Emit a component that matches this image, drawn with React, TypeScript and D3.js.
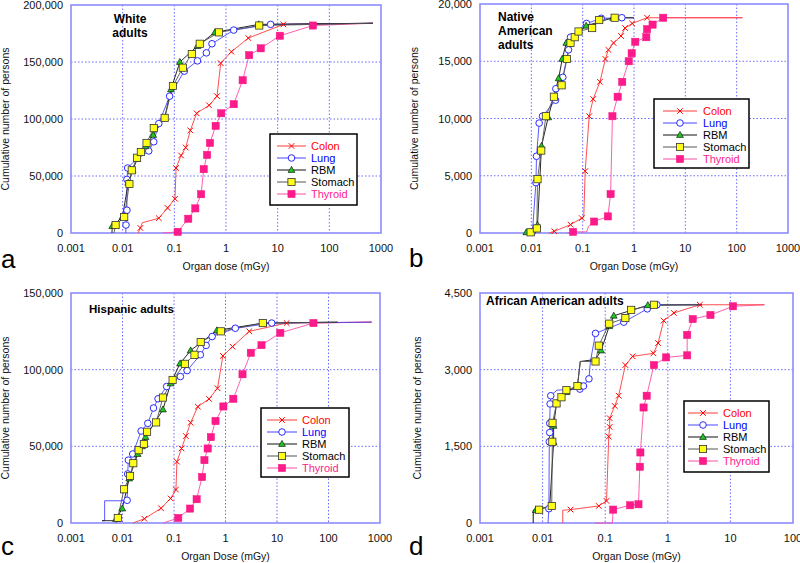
import React from 'react';
import * as d3 from 'd3';

// [dose mGy, cumulative persons] -> point with a marker; a third value 0 = plain vertex
type Pt = number[];

const organs = ['Colon', 'Lung', 'RBM', 'Stomach', 'Thyroid'];

// ---- a: White adults
const colonA: Pt[] = [[0.02, 0, 0], [0.022, 4400], [0.024, 9000, 0], [0.05, 13000], [0.074, 22000], [0.103, 30000], [0.108, 57000], [0.135, 68000], [0.166, 75000], [0.204, 90000], [0.27, 105000], [0.47, 112000], [0.67, 120000], [0.79, 149000], [1.27, 159000], [2.7, 171000], [12.9, 183000], [700, 184000, 0]];
const lungA: Pt[] = [[0.0115, 0, 0], [0.0116, 7000], [0.0121, 20000], [0.0121, 47000], [0.0125, 57000], [0.016, 62000, 0], [0.032, 72000], [0.04, 80000], [0.05, 96000], [0.081, 120000], [0.156, 142000], [0.28, 151000], [0.417, 158000], [0.535, 166000], [1.41, 178000], [7.3, 183000], [700, 184000, 0]];
const rbmA: Pt[] = [[0.0062, 0, 0], [0.0063, 6000], [0.0099, 14000], [0.0128, 44000], [0.0156, 55000], [0.0192, 65000], [0.0275, 76000], [0.039, 86000], [0.065, 101000], [0.086, 126000], [0.128, 150000], [0.28, 164000], [0.61, 176000], [4.3, 183000], [700, 184000, 0]];
const stomachA: Pt[] = [[0.0068, 0, 0], [0.0073, 7000], [0.0107, 14000], [0.0135, 43000], [0.015, 55000], [0.019, 66000], [0.0225, 71000], [0.029, 79000], [0.04, 92000], [0.065, 101000], [0.094, 129000], [0.146, 145000], [0.218, 157000], [0.31, 166000], [0.73, 176000], [4.4, 182000], [700, 184000, 0]];
const thyroidA: Pt[] = [[0.059, 0, 0], [0.116, 1000], [0.186, 12500], [0.255, 21600], [0.33, 34000], [0.37, 56000], [0.43, 68500], [0.49, 79000], [0.63, 94000], [0.81, 105000], [1.41, 113000], [2.1, 134000], [2.8, 156000], [4.7, 162000], [11, 173000], [48, 182000], [700, 184000, 0]];

// ---- b: Native American adults
const colonB: Pt[] = [[0.022, 0, 0], [0.028, 150], [0.058, 730], [0.096, 1300], [0.105, 1400, 0], [0.112, 5400], [0.134, 10200], [0.16, 11700], [0.217, 13200], [0.277, 15200], [0.317, 16000], [0.4, 16600], [0.56, 17200], [0.67, 17900], [0.92, 18300], [1.8, 18800], [130, 18800, 0]];
const lungB: Pt[] = [[0.0095, 0, 0], [0.0105, 100], [0.0123, 4400], [0.0126, 6700], [0.0142, 9600], [0.0165, 10200], [0.0296, 11600], [0.03, 12600], [0.041, 13600], [0.053, 16000], [0.058, 17100], [0.119, 18300], [0.23, 18750], [0.58, 18800], [1.0, 18800, 0]];
const rbmB: Pt[] = [[0.0079, 0, 0], [0.008, 60], [0.0132, 700], [0.0158, 7600], [0.0213, 10100], [0.034, 13500], [0.04, 15200], [0.048, 16600], [0.117, 18100], [0.39, 18800], [1.0, 18800, 0]];
const stomachB: Pt[] = [[0.0095, 0, 0], [0.0097, 60], [0.0128, 400], [0.0132, 4700], [0.0156, 7200], [0.0192, 10200], [0.0275, 11900], [0.0389, 12900], [0.0493, 15200], [0.058, 16600], [0.07, 17100], [0.083, 17600], [0.153, 17900], [0.21, 18600], [0.42, 18800], [1.0, 18800, 0]];
const thyroidB: Pt[] = [[0.05, 0, 0], [0.065, 100], [0.12, 100, 0], [0.13, 600, 0], [0.167, 1000], [0.31, 1450], [0.35, 3400], [0.38, 10200], [0.48, 11900], [0.59, 13200], [0.79, 15000], [0.9, 15700], [1.06, 16700], [1.74, 17100], [1.8, 17800], [2.3, 18200], [3.7, 18800], [130, 18800, 0]];

// ---- c: Hispanic adults
const colonC: Pt[] = [[0.016, 0, 0], [0.0266, 2800], [0.056, 9600], [0.086, 16000], [0.109, 21800], [0.114, 40000], [0.14, 48600], [0.17, 56700], [0.21, 65400], [0.29, 75900], [0.48, 80900], [0.7, 87900], [0.89, 109000], [1.37, 115000], [2.9, 125000], [15.4, 130400], [690, 131000, 0]];
const lungC: Pt[] = [[0.004, 1500, 0], [0.0045, 1500, 0], [0.0045, 14500, 0], [0.012, 14500, 0], [0.0123, 14800], [0.0126, 32000], [0.013, 41000], [0.0158, 45000], [0.023, 60000], [0.031, 65000], [0.04, 75000], [0.049, 81000], [0.072, 89000], [0.133, 95500], [0.18, 99400], [0.325, 109700], [0.42, 115800], [0.55, 121600], [1.55, 127000], [7.9, 130400], [690, 131000, 0]];
const rbmC: Pt[] = [[0.004, 1500, 0], [0.0072, 1500, 0], [0.0075, 2600], [0.0099, 9400], [0.0135, 29000], [0.0197, 45000], [0.024, 50000], [0.028, 56000], [0.061, 74000], [0.086, 91000], [0.131, 104000], [0.21, 112500], [0.68, 125600], [5.4, 130400], [150, 131000, 0]];
const stomachC: Pt[] = [[0.0075, 0, 0], [0.0081, 3300], [0.0107, 22000], [0.014, 30700], [0.0162, 39000], [0.0206, 47500], [0.026, 51500], [0.03, 59500], [0.045, 65600], [0.061, 81800], [0.094, 93300], [0.163, 103800], [0.25, 109700], [0.33, 118000], [0.81, 125000], [5.3, 130400], [150, 131000, 0]];
const thyroidC: Pt[] = [[0.062, 0, 0], [0.121, 3300], [0.205, 9400], [0.275, 15500], [0.35, 30000], [0.39, 41000], [0.45, 48600], [0.52, 56000], [0.64, 66500], [0.91, 76000], [1.42, 81000], [2.14, 97000], [3.1, 111000], [5.0, 116000], [11.6, 124000], [51, 130400], [690, 131000, 0]];

// ---- d: African American adults
const colonD: Pt[] = [[0.021, 0, 0], [0.021, 250, 0], [0.028, 262], [0.079, 333], [0.105, 432], [0.114, 1690], [0.118, 1880], [0.118, 2050], [0.142, 2290], [0.164, 2490], [0.21, 3090], [0.275, 3260], [0.59, 3320], [0.7, 3520], [0.86, 3960], [1.25, 4110], [3.25, 4270], [35, 4270, 0]];
const lungD: Pt[] = [[0.0122, 0, 0], [0.0126, 280], [0.0128, 1590], [0.013, 1770], [0.013, 1950], [0.0132, 2330], [0.0135, 2490], [0.017, 2600, 0], [0.0394, 2620], [0.045, 2680], [0.055, 2820], [0.058, 3160, 0], [0.07, 3710], [0.198, 3930], [0.47, 4190], [0.67, 4270], [3.5, 4270, 0]];
const rbmD: Pt[] = [[0.0071, 0, 0], [0.0071, 250, 0], [0.0078, 250], [0.013, 330, 0], [0.015, 1580], [0.015, 1900], [0.0167, 2340], [0.024, 2560], [0.036, 2680, 0], [0.04, 3160, 0], [0.07, 3200, 0], [0.086, 3375], [0.116, 3850], [0.137, 4055], [0.48, 4260], [3.5, 4270, 0]];
const stomachD: Pt[] = [[0.0071, 0, 0], [0.0071, 250, 0], [0.0088, 260], [0.014, 333], [0.0143, 1590], [0.0144, 1960], [0.0167, 2340], [0.02, 2460], [0.024, 2600], [0.036, 2680], [0.04, 3160, 0], [0.07, 3160], [0.079, 3470], [0.116, 3900], [0.21, 4010], [0.26, 4170], [0.6, 4270], [3.5, 4270, 0]];
const thyroidD: Pt[] = [[0.068, 0, 0], [0.13, 0, 0], [0.134, 262], [0.25, 347], [0.34, 366], [0.358, 1100], [0.365, 1380], [0.41, 2260], [0.46, 2490], [0.6, 3090], [0.94, 3240], [2.04, 3280], [2.04, 3680], [2.5, 3990], [4.8, 4070], [11.0, 4240], [35, 4270, 0]];

const doseTicks = [0.001, 0.01, 0.1, 1, 10, 100, 1000];
const yTicksA = [0, 50000, 100000, 150000, 200000];
const yTicksB = [0, 5000, 10000, 15000, 20000];
const yTicksC = [0, 50000, 100000, 150000];
const yTicksD = [0, 1500, 3000, 4500];

const FONT = 'Arial, "Liberation Sans", Helvetica, sans-serif';
const FRAME = '#8c8cff';
const GRID = '#5a5aff';

const styles: { [k: string]: { line: string; text: string } } = {
  Colon: { line: '#ff3b3b', text: '#ff0000' },
  Lung: { line: '#4646ff', text: '#0000ff' },
  RBM: { line: '#111111', text: '#000000' },
  Stomach: { line: '#555555', text: '#000000' },
  Thyroid: { line: '#ff4da6', text: '#ff1a8c' },
};

const Marker = ({ organ, x, y }: { organ: string; x: number; y: number }) => {
  if (organ === 'Colon') {
    const s = 2.8;
    return (
      <path d={`M${x - s},${y - s}L${x + s},${y + s}M${x - s},${y + s}L${x + s},${y - s}`} stroke="#ff0000" strokeWidth={1} />
    );
  }
  if (organ === 'Lung') {
    return <circle cx={x} cy={y} r={3.3} fill="#fff" stroke="#2a2aff" strokeWidth={1} />;
  }
  if (organ === 'RBM') {
    return (
      <path d={`M${x},${y - 3.6}L${x + 3.4},${y + 2.4}L${x - 3.4},${y + 2.4}Z`} fill="#1ec81e" stroke="#000" strokeWidth={0.6} />
    );
  }
  if (organ === 'Stomach') {
    return <rect x={x - 3.6} y={y - 3.6} width={7.2} height={7.2} fill="#ffff1a" stroke="#333" strokeWidth={0.8} />;
  }
  return <rect x={x - 3.6} y={y - 3.6} width={7.2} height={7.2} fill="#ff1a8c" stroke="#f0147f" strokeWidth={0.5} />;
};

interface PanelProps {
  letter: string;
  letterX: number;
  letterY: number;
  title: string[];
  titleX: number;
  titleY: number;
  titleAnchor: 'start' | 'middle';
  titleSize: number;
  left: number;
  right: number;
  top: number;
  bottom: number;
  maxDose: number;
  yMax: number;
  yTicks: number[];
  xLabel: string;
  legend: { x: number; y: number; w: number; h: number; l0: number; l1: number; tx: number };
  yTitleX: number;
  series: Pt[][];
}

const Panel = (p: PanelProps) => {
  const x = d3.scaleLog().domain([0.001, p.maxDose]).range([p.left, p.right]);
  const y = d3.scaleLinear().domain([0, p.yMax]).range([p.bottom, p.top]);
  const line = d3
    .line<Pt>()
    .x((d) => x(d[0]))
    .y((d) => y(d[1]));
  const xt = doseTicks.filter((t) => t <= p.maxDose);
  const fmt = d3.format(',');
  const order = [4, 0, 1, 2, 3];
  const L = p.legend;

  return (
    <g fontFamily={FONT}>
      {/* grid */}
      {xt.slice(1, -1).map((t) => (
        <line key={`gx${t}`} x1={x(t)} x2={x(t)} y1={p.top} y2={p.bottom} stroke={GRID} strokeWidth={0.9} strokeDasharray="1.5,2" />
      ))}
      {p.yTicks.slice(1, -1).map((t) => (
        <line key={`gy${t}`} x1={p.left} x2={p.right} y1={y(t)} y2={y(t)} stroke={GRID} strokeWidth={0.9} strokeDasharray="1.5,2" />
      ))}
      <rect x={p.left} y={p.top} width={p.right - p.left} height={p.bottom - p.top} fill="none" stroke={FRAME} strokeWidth={1.6} />

      {/* ticks */}
      {xt.map((t) => (
        <text key={`tx${t}`} x={x(t)} y={p.bottom + 19} fontSize={11} textAnchor="middle" fill="#111">
          {t < 1 ? String(t) : d3.format('d')(t)}
        </text>
      ))}
      {p.yTicks.map((t) => (
        <text key={`ty${t}`} x={p.left - 8} y={y(t) + 4} fontSize={11} textAnchor="end" fill="#111">
          {fmt(t)}
        </text>
      ))}
      <text x={(p.left + p.right) / 2} y={p.bottom + 37} fontSize={10.5} textAnchor="middle" fill="#111">
        {p.xLabel}
      </text>
      <text
        transform={`translate(${p.yTitleX},${(p.top + p.bottom) / 2}) rotate(-90)`}
        fontSize={10.5}
        textAnchor="middle"
        fill="#111"
      >
        Cumulative number of persons
      </text>
      <text x={p.letterX} y={p.letterY} fontSize={26} fill="#000">
        {p.letter}
      </text>

      {/* curves */}
      {order.map((i) => (
        <path key={`l${i}`} d={line(p.series[i]) || ''} fill="none" stroke={styles[organs[i]].line} strokeWidth={0.9} />
      ))}
      {order.map((i) => (
        <g key={`m${i}`}>
          {p.series[i]
            .filter((d) => d[2] !== 0)
            .map((d, j) => (
              <Marker key={j} organ={organs[i]} x={x(d[0])} y={y(d[1])} />
            ))}
        </g>
      ))}

      {/* title */}
      {p.title.map((s, i) => (
        <text key={s} x={p.titleX} y={p.titleY + i * 14} fontSize={p.titleSize} fontWeight="bold" textAnchor={p.titleAnchor} fill="#000">
          {s}
        </text>
      ))}

      {/* legend */}
      <rect x={L.x} y={L.y} width={L.w} height={L.h} fill="#fff" stroke="#000" strokeWidth={1.5} />
      {organs.map((o, i) => {
        const cy = L.y + 12 + i * 12;
        return (
          <g key={o}>
            <line x1={L.x + L.l0} x2={L.x + L.l1} y1={cy} y2={cy} stroke={styles[o].line} strokeWidth={1} />
            <Marker organ={o} x={L.x + (L.l0 + L.l1) / 2} y={cy} />
            <text x={L.x + L.tx} y={cy + 4} fontSize={11} fill={styles[o].text}>
              {o}
            </text>
          </g>
        );
      })}
    </g>
  );
};

const App = () => (
  <svg width={800} height={563} style={{ position: 'absolute', left: 0, top: 0, background: '#fff' }}>
    <Panel
      letter="a"
      letterX={1}
      letterY={268}
      title={['White', 'adults']}
      titleX={130}
      titleY={23}
      titleAnchor="middle"
      titleSize={12}
      left={71}
      right={381}
      top={5}
      bottom={233}
      maxDose={1000}
      yMax={200000}
      yTicks={yTicksA}
      xLabel="Organ dose (mGy)"
      legend={{ x: 270, y: 134, w: 87, h: 71, l0: 7, l1: 36, tx: 41 }}
      yTitleX={9}
      series={[colonA, lungA, rbmA, stomachA, thyroidA]}
    />
    <Panel
      letter="b"
      letterX={409}
      letterY={267}
      title={['Native', 'American', 'adults']}
      titleX={498}
      titleY={21}
      titleAnchor="start"
      titleSize={12}
      left={480}
      right={788}
      top={4}
      bottom={233}
      maxDose={1000}
      yMax={20000}
      yTicks={yTicksB}
      xLabel="Organ Dose (mGy)"
      legend={{ x: 654, y: 99, w: 95, h: 69, l0: 9, l1: 43, tx: 49 }}
      yTitleX={418}
      series={[colonB, lungB, rbmB, stomachB, thyroidB]}
    />
    <Panel
      letter="c"
      letterX={1}
      letterY={555}
      title={['Hispanic adults']}
      titleX={89}
      titleY={313}
      titleAnchor="start"
      titleSize={11.5}
      left={71}
      right={380}
      top={293}
      bottom={523}
      maxDose={1000}
      yMax={150000}
      yTicks={yTicksC}
      xLabel="Organ Dose (mGy)"
      legend={{ x: 261, y: 408, w: 88, h: 69, l0: 6, l1: 36, tx: 41 }}
      yTitleX={9}
      series={[colonC, lungC, rbmC, stomachC, thyroidC]}
    />
    <Panel
      letter="d"
      letterX={409}
      letterY={555}
      title={['African American adults']}
      titleX={486}
      titleY={305}
      titleAnchor="start"
      titleSize={12}
      left={480}
      right={793}
      top={293}
      bottom={523}
      maxDose={100}
      yMax={4500}
      yTicks={yTicksD}
      xLabel="Organ Dose (mGy)"
      legend={{ x: 684, y: 401, w: 85, h: 71, l0: 4, l1: 34, tx: 39 }}
      yTitleX={421}
      series={[colonD, lungD, rbmD, stomachD, thyroidD]}
    />
  </svg>
);

export default App;
